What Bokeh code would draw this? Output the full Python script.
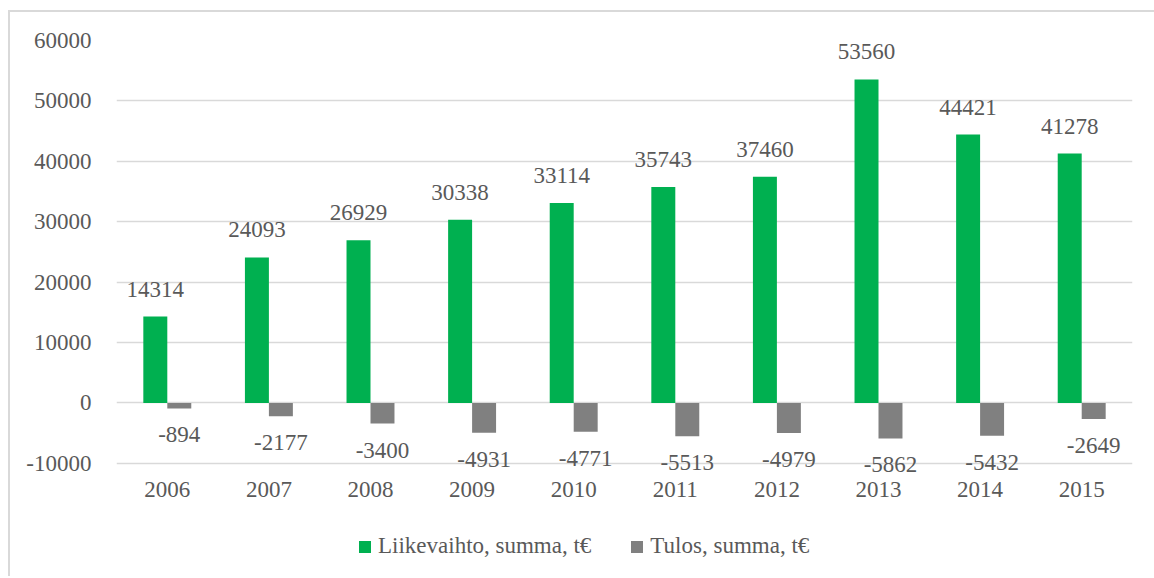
from bokeh.plotting import figure
from bokeh.layouts import column
from bokeh.models import (FactorRange, Range1d, ColumnDataSource, LabelSet, Legend,
                          LegendItem, SingleIntervalTicker, NumeralTickFormatter)
from bokeh.transform import dodge
from bokeh.core.properties import value
from bokeh.embed import file_html
from bokeh.resources import INLINE

years = ["2006", "2007", "2008", "2009", "2010", "2011", "2012", "2013", "2014", "2015"]
liikevaihto = [14314, 24093, 26929, 30338, 33114, 35743, 37460, 53560, 44421, 41278]
tulos = [-894, -2177, -3400, -4931, -4771, -5513, -4979, -5862, -5432, -2649]
series_names = ["Liikevaihto, summa, t€", "Tulos, summa, t€"]

FONT = "Liberation Serif"
FS = "23px"
TXT = "#595959"
GREEN = "#00B050"
GRAY = "#808080"
GRID = "#d9d9d9"

src = ColumnDataSource(dict(
    years=years,
    liike=liikevaihto,
    tulos=tulos,
    liike_txt=[str(v) for v in liikevaihto],
    tulos_txt=[str(v) for v in tulos],
))

p = figure(width=1144, height=508, x_range=FactorRange(*years),
           y_range=Range1d(-12500, 60000), output_backend="svg",
           toolbar_location=None, min_border_left=106, min_border_right=22,
           min_border_top=28, min_border_bottom=42)

r1 = p.vbar(x=dodge("years", -0.118, range=p.x_range), top="liike", width=0.236,
            source=src, fill_color=GREEN, line_color=None)
r2 = p.vbar(x=dodge("years", 0.118, range=p.x_range), top="tulos", width=0.236,
            source=src, fill_color=GRAY, line_color=None)

l1 = LabelSet(x=dodge("years", -0.118, range=p.x_range), y="liike", text="liike_txt",
              source=src, text_align="center", text_baseline="bottom", y_offset=20,
              text_font=value(FONT), text_font_size=FS, text_color=TXT)
l2 = LabelSet(x=dodge("years", 0.118, range=p.x_range), y="tulos", text="tulos_txt",
              source=src, text_align="center", text_baseline="top", y_offset=-19,
              text_font=value(FONT), text_font_size=FS, text_color=TXT)
p.add_layout(l1)
p.add_layout(l2)

p.outline_line_color = None
p.xgrid.grid_line_color = None
p.ygrid.grid_line_color = GRID
p.ygrid.grid_line_width = 1.5
p.yaxis.ticker = SingleIntervalTicker(interval=10000)
p.yaxis.formatter = NumeralTickFormatter(format="0")
for ax in (p.xaxis, p.yaxis):
    ax.axis_line_color = None
    ax.major_tick_line_color = None
    ax.minor_tick_line_color = None
    ax.major_tick_out = 0
    ax.major_tick_in = 0
    ax.major_label_text_font = FONT
    ax.major_label_text_font_size = FS
    ax.major_label_text_color = TXT
p.yaxis.major_label_standoff = 21
p.xaxis.major_label_standoff = 3

# legend strip below the chart (its frame is aligned with the chart's frame)
q = figure(width=1144, height=56, x_range=Range1d(0, 1), y_range=Range1d(0, 1),
           output_backend="svg", toolbar_location=None, x_axis_type=None, y_axis_type=None,
           min_border=0)
q.outline_line_color = None
q.grid.grid_line_color = None
e1 = q.vbar(x=[-10], top=[-10], width=0.1, fill_color=GREEN, line_color=None)
e2 = q.vbar(x=[-10], top=[-10], width=0.1, fill_color=GRAY, line_color=None)
legend = Legend(items=[LegendItem(label=series_names[0], renderers=[e1]),
                       LegendItem(label=series_names[1], renderers=[e2])],
                orientation="horizontal", location=(241, 17),
                label_text_font=FONT, label_text_font_size=FS, label_text_color=TXT,
                glyph_width=15, glyph_height=15, label_standoff=6, spacing=38,
                padding=0, margin=0, border_line_color=None, background_fill_alpha=0)
q.add_layout(legend, "center")

layout = column(p, q, spacing=0)
layout.styles = {"margin-left": "8px", "margin-top": "10px",
                 "border-left": "2px solid #d9d9d9", "border-top": "2px solid #d9d9d9"}

open("out.html", "w").write(file_html(layout, INLINE))
